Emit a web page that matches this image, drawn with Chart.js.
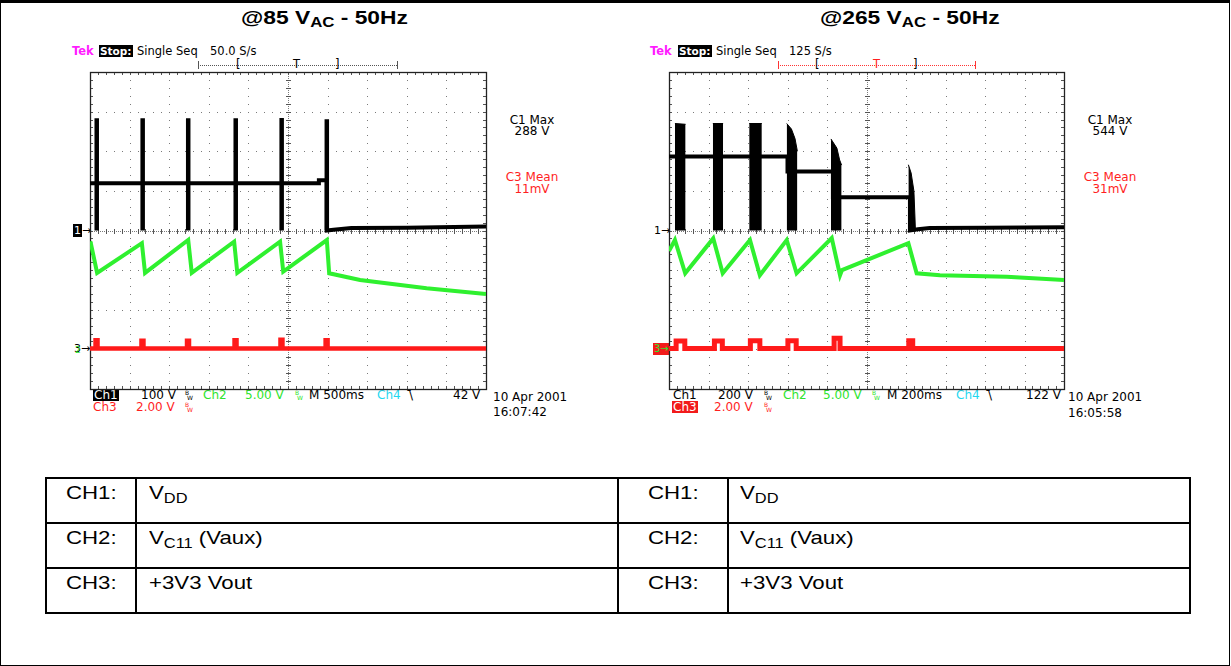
<!DOCTYPE html>
<html>
<head>
<meta charset="utf-8">
<script src="https://cdn.jsdelivr.net/npm/chart.js@4.4.1/dist/chart.umd.min.js"></script>
<style>
  body { margin: 0; background: #fff; }
  #page { position: relative; width: 1231px; height: 666px; overflow: hidden; }
  .frame { position: absolute; left: 0; top: 0; width: 1230px; height: 666px; box-sizing: border-box;
           border: 1px solid #000; border-top: 3px solid #000; }
  canvas { position: absolute; }
  .t { position: absolute; white-space: pre; font-family: "DejaVu Sans", sans-serif; font-size: 12px; line-height: 12px; color: #000; }
  .s { font-size: 11.5px; }
  .stop { font-size: 10.5px; font-weight: bold; background: #000; color: #fff; padding: 0 1px; }
  .ctr { width: 100px; text-align: center; }
  .inv { background: #000; color: #fff; padding: 0 1px; }
  .redbox { background: #f21b1b; color: #fff; padding: 0 1px; }
  .g { color: #2ee52e; }
  .r { color: #ff1f1f; }
  .c { color: #1fd8f0; }
  .m { color: #ff1cff; font-weight: bold; }
  .bw { font-size: 6px; line-height: 5px; }
  .title { position: absolute; top: 7px; font: bold 19px "Liberation Sans", Arial, sans-serif; line-height: 22px;
           white-space: pre; transform: scaleX(1.2); transform-origin: 0 0; }
  .title sub { font-size: 14px; vertical-align: -3px; }
  .trig { position: absolute; height: 0; border-top: 1px dotted #555; }
  .tick { position: absolute; width: 0; height: 8px; border-left: 1px solid #555; }
  table { position: absolute; left: 45px; top: 477px; width: 1144px; border-collapse: collapse; table-layout: fixed;
          font: 19px "Liberation Sans", Arial, sans-serif; }
  td { border: 2px solid #000; height: 40px; padding: 3px 0 0 0; vertical-align: top; white-space: nowrap; }
  td span { display: inline-block; transform: scaleX(1.17); transform-origin: 0 0; }
  td sub { font-size: 14px; vertical-align: -4px; }
</style>
</head>
<body>
<div id="page">
  <div class="frame"></div>

  <div class="title" style="left:241px">@85 V<sub>AC</sub> - 50Hz</div>
  <div class="title" style="left:820px">@265 V<sub>AC</sub> - 50Hz</div>

  <!-- left scope header -->
  <div class="t s m" style="left:72px;top:45px">Tek</div>
  <div class="t stop" style="left:99px;top:45px">Stop:</div>
  <div class="t s" style="left:137px;top:45px">Single Seq</div>
  <div class="t s" style="left:210px;top:45px">50.0 S/s</div>
  <div class="trig" style="left:198px;top:65px;width:199px"></div>
  <div class="tick" style="left:198px;top:61px"></div>
  <div class="tick" style="left:397px;top:61px"></div>
  <div class="t s" style="left:236px;top:58px">[</div>
  <div class="t s" style="left:293px;top:58px">T</div>
  <div class="t s" style="left:335px;top:58px">]</div>

  <!-- right scope header -->
  <div class="t s m" style="left:650px;top:45px">Tek</div>
  <div class="t stop" style="left:678px;top:45px">Stop:</div>
  <div class="t s" style="left:716px;top:45px">Single Seq</div>
  <div class="t s" style="left:789px;top:45px">125 S/s</div>
  <div class="trig" style="left:778px;top:65px;width:197px;border-color:#f33"></div>
  <div class="tick" style="left:778px;top:61px;border-color:#f33"></div>
  <div class="tick" style="left:975px;top:61px;border-color:#f33"></div>
  <div class="t s" style="left:815px;top:58px">[</div>
  <div class="t s r" style="left:873px;top:58px">T</div>
  <div class="t s" style="left:913px;top:58px">]</div>

  <!-- measurements -->
  <div class="t ctr" style="left:482px;top:114px">C1 Max</div>
  <div class="t ctr" style="left:482px;top:125px">288 V</div>
  <div class="t ctr r" style="left:482px;top:171px">C3 Mean</div>
  <div class="t ctr r" style="left:482px;top:183px">11mV</div>
  <div class="t ctr" style="left:1060px;top:114px">C1 Max</div>
  <div class="t ctr" style="left:1060px;top:125px">544 V</div>
  <div class="t ctr r" style="left:1060px;top:171px">C3 Mean</div>
  <div class="t ctr r" style="left:1060px;top:183px">31mV</div>

  <!-- ground markers -->
  <div class="t" style="left:73px;top:225px;font-size:11px"><span class="inv">1</span>→</div>
  <div class="t" style="left:74px;top:343px;font-size:11px">3→</div>
  <div class="t g" style="left:75px;top:344px;font-size:9px">2</div>
  <div class="t" style="left:654px;top:225px;font-size:11px">1→</div>
  <div class="t g" style="left:653px;top:343px;font-size:10px;background:#f21b1b;padding:0 1px">3→</div>

  <!-- left scope footer -->
  <div class="t inv" style="left:93px;top:389px">Ch1</div>
  <div class="t" style="left:141px;top:389px">100 V</div>
  <div class="t bw" style="left:185px;top:390px">B<br> W</div>
  <div class="t g" style="left:203px;top:389px">Ch2</div>
  <div class="t g" style="left:245px;top:389px">5.00 V</div>
  <div class="t bw g" style="left:295px;top:390px">B<br> W</div>
  <div class="t" style="left:309px;top:389px">M 500ms</div>
  <div class="t c" style="left:377px;top:389px">Ch4</div>
  <div class="t" style="left:406px;top:389px;letter-spacing:-3px">¯\</div>
  <div class="t" style="left:453px;top:389px">42 V</div>
  <div class="t r" style="left:93px;top:401px">Ch3</div>
  <div class="t r" style="left:136px;top:401px">2.00 V</div>
  <div class="t bw r" style="left:185px;top:402px">B<br> W</div>
  <div class="t" style="left:493px;top:391px">10 Apr 2001</div>
  <div class="t" style="left:493px;top:406px">16:07:42</div>

  <!-- right scope footer -->
  <div class="t" style="left:673px;top:389px">Ch1</div>
  <div class="t" style="left:718px;top:389px">200 V</div>
  <div class="t bw" style="left:764px;top:390px">B<br> W</div>
  <div class="t g" style="left:783px;top:389px">Ch2</div>
  <div class="t g" style="left:823px;top:389px">5.00 V</div>
  <div class="t bw g" style="left:872px;top:390px">B<br> W</div>
  <div class="t" style="left:887px;top:389px">M 200ms</div>
  <div class="t c" style="left:956px;top:389px">Ch4</div>
  <div class="t" style="left:985px;top:389px;letter-spacing:-3px">¯\</div>
  <div class="t" style="left:1026px;top:389px">122 V</div>
  <div class="t redbox" style="left:672px;top:401px">Ch3</div>
  <div class="t r" style="left:714px;top:401px">2.00 V</div>
  <div class="t bw r" style="left:764px;top:402px">B<br> W</div>
  <div class="t" style="left:1068px;top:391px">10 Apr 2001</div>
  <div class="t" style="left:1068px;top:407px">16:05:58</div>

  <canvas id="left" width="416" height="337" style="left:80px;top:62px"></canvas>
  <canvas id="right" width="415" height="337" style="left:659px;top:62px"></canvas>

  <table>
    <colgroup><col style="width:90px"><col style="width:482px"><col style="width:110px"><col style="width:462px"></colgroup>
    <tr>
      <td style="padding-left:19px"><span>CH1:</span></td><td style="padding-left:12px"><span>V<sub>DD</sub></span></td>
      <td style="padding-left:29px"><span>CH1:</span></td><td style="padding-left:11px"><span>V<sub>DD</sub></span></td>
    </tr>
    <tr>
      <td style="padding-left:19px"><span>CH2:</span></td><td style="padding-left:12px"><span>V<sub>C11</sub> (Vaux)</span></td>
      <td style="padding-left:29px"><span>CH2:</span></td><td style="padding-left:11px"><span>V<sub>C11</sub> (Vaux)</span></td>
    </tr>
    <tr>
      <td style="padding-left:19px"><span>CH3:</span></td><td style="padding-left:12px"><span>+3V3 Vout</span></td>
      <td style="padding-left:29px"><span>CH3:</span></td><td style="padding-left:11px"><span>+3V3 Vout</span></td>
    </tr>
  </table>
</div>

<script>
// all times are in screen divisions (0..10), all levels in divisions from centre (-4..4)

// ---- left screen: 85 VAC, 500 ms/div ----
const L_SPIKE_T   = [0.17, 1.33, 2.48, 3.68, 4.84, 5.98];
const L_SPIKE_TOP = [2.83, 2.83, 2.83, 2.83, 2.84, 2.81];
const L_VDD_T  = [0, 5.78, 5.78, 5.98, 5.98, 6.15, 6.6, 8.0, 10];
const L_VDD_V  = [1.19, 1.19, 1.27, 1.27, 0.0, 0.02, 0.06, 0.07, 0.1];
const L_VC11_T = [0, 0.02, 0.18, 1.31, 1.39, 2.48, 2.57, 3.64, 3.72, 4.80, 4.88, 5.98, 6.04, 6.82, 8.50, 10];
const L_VC11_V = [-0.28, -0.32, -1.07, -0.32, -1.07, -0.24, -1.07, -0.28, -1.07, -0.28, -1.04, -0.24, -1.08, -1.25, -1.46, -1.6];
const L_VOUT_BASE = -2.98;
const L_BUMP_START = [0.14, 1.30, 2.45, 3.65, 4.81, 5.95];
const L_BUMP_END   = [0.19, 1.35, 2.50, 3.70, 4.86, 6.00];
const L_BUMP_TOP   = [-2.77, -2.78, -2.78, -2.77, -2.76, -2.77];

// ---- right screen: 265 VAC, 200 ms/div ----
const R_BURST_T = [0.15, 0.42, 0.42, 1.11, 1.37, 1.37, 2.03, 2.35, 2.35, 2.98, 3.10, 3.19, 3.25, 3.25, 4.10, 4.25, 4.32, 4.37, 4.37, 6.06, 6.13, 6.20, 6.24];
const R_BURST_V = [2.70, 2.68, null, 2.70, 2.70, null, 2.70, 2.70, null, 2.70, 2.56, 2.32, 2.00, null, 2.31, 2.08, 1.78, 1.65, null, 1.66, 1.45, 1.00, 0.00];
const R_VDD_T  = [0, 3.0, 3.0, 4.15, 4.15, 6.1, 6.1, 6.3, 6.6, 8.0, 10];
const R_VDD_V  = [1.87, 1.87, 1.49, 1.49, 0.84, 0.84, 0.0, 0.03, 0.06, 0.07, 0.08];
const R_VC11_T = [0, 0.15, 0.41, 1.12, 1.36, 2.05, 2.30, 2.98, 3.23, 4.12, 4.33, 4.38, 6.06, 6.27, 6.86, 8.55, 10];
const R_VC11_V = [-0.52, -0.24, -1.08, -0.20, -1.08, -0.24, -1.13, -0.24, -1.08, -0.19, -1.13, -1.0, -0.32, -1.08, -1.13, -1.17, -1.25];
const R_VOUT_BASE = -2.98;
const R_BUMP_START = [0.18, 1.15, 2.06, 3.01, 4.18, 6.07];
const R_BUMP_END   = [0.40, 1.35, 2.30, 3.22, 4.33, 6.17];
const R_BUMP_TOP   = [-2.79, -2.79, -2.78, -2.78, -2.72, -2.78];

const BLACK = '#000', GREEN = '#2ff02f', RED = '#ff1a1a';

function pts(T, V) { return T.map((t, i) => ({ x: t, y: V[i] })); }
function spikes(T, top) {
  const out = [];
  T.forEach((t, i) => { out.push({ x: t, y: 0 }, { x: t, y: top[i] }, { x: t, y: null }); });
  return out;
}
function bumps(base, start, end, top) {
  const out = [{ x: 0, y: base }];
  start.forEach((s, i) => {
    out.push({ x: s, y: base }, { x: s, y: top[i] }, { x: end[i], y: top[i] }, { x: end[i], y: base });
  });
  out.push({ x: 10, y: base });
  return out;
}

// Tek style graticule: dotted divisions, ticked centre lines and frame
const graticule = {
  id: 'graticule',
  beforeDatasetsDraw(chart) {
    const { ctx, scales: { x, y } } = chart;
    const X = v => Math.round(x.getPixelForValue(v));
    const Y = v => Math.round(y.getPixelForValue(v));
    ctx.save();
    ctx.fillStyle = '#7a7a7a';
    for (let i = 1; i < 10; i++) {
      if (i === 5) continue;
      for (let k = 0; k <= 40; k++) ctx.fillRect(X(i), Y(-4 + k / 5), 1, 1);
    }
    for (let j = -3; j <= 3; j++) {
      if (j === 0) continue;
      for (let k = 0; k <= 50; k++) ctx.fillRect(X(k / 5), Y(j), 1, 1);
    }
    for (let p = X(0); p <= X(10); p += 2) ctx.fillRect(p, Y(0), 1, 1);
    for (let p = Y(4); p <= Y(-4); p += 2) ctx.fillRect(X(5), p, 1, 1);
    ctx.strokeStyle = '#555';
    ctx.lineWidth = 1;
    ctx.beginPath();
    for (let k = 1; k < 50; k++) {
      const px = X(k / 5) + 0.5;
      ctx.moveTo(px, Y(4)); ctx.lineTo(px, Y(4) + 3);
      ctx.moveTo(px, Y(-4)); ctx.lineTo(px, Y(-4) - 3);
      ctx.moveTo(px, Y(0) - 2); ctx.lineTo(px, Y(0) + 3);
    }
    for (let k = 1; k < 40; k++) {
      const py = Y(-4 + k / 5) + 0.5;
      ctx.moveTo(X(0), py); ctx.lineTo(X(0) + 3, py);
      ctx.moveTo(X(10), py); ctx.lineTo(X(10) - 3, py);
      ctx.moveTo(X(5) - 2, py); ctx.lineTo(X(5) + 3, py);
    }
    ctx.stroke();
    ctx.strokeStyle = '#222';
    ctx.lineWidth = 1.3;
    ctx.strokeRect(X(0) + 0.5, Y(4) + 0.5, X(10) - X(0), Y(-4) - Y(4));
    ctx.restore();
  }
};

function line(data, color, width, order, extra) {
  return Object.assign({
    data, borderColor: color, backgroundColor: color, borderWidth: width,
    pointRadius: 0, tension: 0, fill: false, spanGaps: false, order,
    borderJoinStyle: 'miter'
  }, extra || {});
}

function scope(id, datasets) {
  return new Chart(document.getElementById(id), {
    type: 'line',
    data: { datasets },
    options: {
      responsive: false,
      animation: false,
      devicePixelRatio: 1,
      layout: { padding: 10 },
      plugins: { legend: { display: false }, tooltip: { enabled: false } },
      scales: {
        x: { type: 'linear', min: 0, max: 10, display: false },
        y: { type: 'linear', min: -4, max: 4, display: false }
      }
    },
    plugins: [graticule]
  });
}

scope('left', [
  line(bumps(L_VOUT_BASE, L_BUMP_START, L_BUMP_END, L_BUMP_TOP), RED, 4.5, 1),
  line(pts(L_VC11_T, L_VC11_V), GREEN, 4, 2),
  line(spikes(L_SPIKE_T, L_SPIKE_TOP), BLACK, 4.5, 3),
  line(pts(L_VDD_T, L_VDD_V), BLACK, 4, 3)
]);

scope('right', [
  line(bumps(R_VOUT_BASE, R_BUMP_START, R_BUMP_END, R_BUMP_TOP), RED, 5, 1),
  line(pts(R_VC11_T, R_VC11_V), GREEN, 4, 2),
  line(pts(R_BURST_T, R_BURST_V), BLACK, 1, 3, { fill: 'origin' }),
  line(pts(R_VDD_T, R_VDD_V), BLACK, 4, 3)
]);
</script>
</body>
</html>
